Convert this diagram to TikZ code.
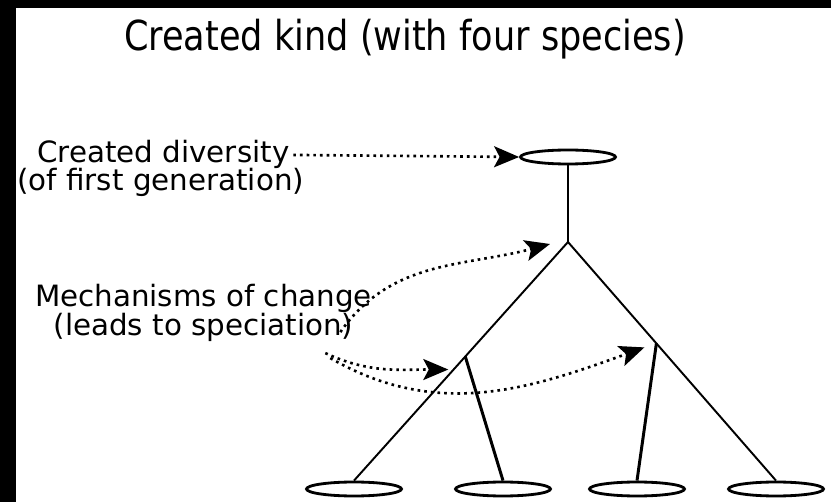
\documentclass[tikz,border=0pt]{standalone}
\usepackage{fontspec}
\setmainfont{DejaVu Sans}
\newfontfamily\titlefont{DejaVu Sans}[FakeStretch=0.85]
\usetikzlibrary{calc,arrows.meta,shapes.geometric}

\tikzset{
	species/.style={draw, ellipse, line width=1.6pt, minimum width=1.9cm, minimum height=0.28cm, inner sep=0pt},
	branch/.style={line width=1.1pt},
	stem/.style={line width=1.7pt},
	flow/.style={line width=1.5pt, dash pattern=on 1.5pt off 2.3pt, -{Stealth[length=0.5cm, width=0.42cm, inset=0.11cm]}},
	lbl/.style={font=\fontsize{16.7}{16.5}\selectfont, inner sep=0pt}
}

\begin{document}
\begin{tikzpicture}
	%%%%% START %%%%%
	\useasboundingbox (0,0) rectangle (16.62,10.04);
	
	% dark edges
	\fill[black] (0,0) rectangle (0.32,10.04);
	\fill[black] (0,9.88) rectangle (16.62,10.04);
	
	\node[font=\titlefont\fontsize{23.5}{23}\selectfont, inner sep=0pt, anchor=base] (title) at (8.1,9.02) {Created kind (with four species)};
	
	\node[lbl, anchor=base west] (cd) at (0.74,6.78) {Created diversity};
	\node[lbl, anchor=base west] (gen) at (0.34,6.22) {(of first generation)};
	\node[lbl, align=center, anchor=north] (mech) at (4.07,4.36) {Mechanisms of change\\(leads to speciation)};
	
	% the kind and its four species
	\node[species] (kind) at (11.36,6.9) {};
	\node[species] (sp1) at (7.08,0.26) {};
	\node[species] (sp2) at (10.06,0.26) {};
	\node[species] (sp3) at (12.74,0.26) {};
	\node[species] (sp4) at (15.52,0.26) {};
	
	\coordinate (fork) at (11.36,5.2);
	\coordinate (forkL) at ($(fork)!0.48!(sp1.north)$);
	\coordinate (forkR) at ($(fork)!0.425!(sp4.north)$);
	
	\draw[stem] (kind.south) -- (fork);
	\draw[branch] (fork) -- (sp1.north);
	\draw[branch] (fork) -- (sp4.north);
	\draw[stem] (forkL) -- (sp2.north);
	\draw[stem] (forkR) -- (sp3.north);
	
	% dotted pointers
	\coordinate (m1) at ($(mech.south east)+(-0.64,0.2)$);
	\coordinate (m2) at ($(mech.south east)+(-0.94,-0.22)$);
	\coordinate (m3) at ($(mech.south east)+(-0.84,-0.32)$);
	
	\draw[flow, shorten <=2pt] (cd.east) -- (kind.west);
	\draw[flow] (m1) to[out=55,in=195] ($(fork)+(-0.36,-0.04)$);
	\draw[flow] (m2) to[out=-25,in=180] ($(forkL)+(-0.34,-0.26)$);
	\draw[flow] (m3) to[out=-30,in=200] ($(forkR)+(-0.24,-0.08)$);
	
	%%%%% END %%%%%
\end{tikzpicture}
\end{document}
